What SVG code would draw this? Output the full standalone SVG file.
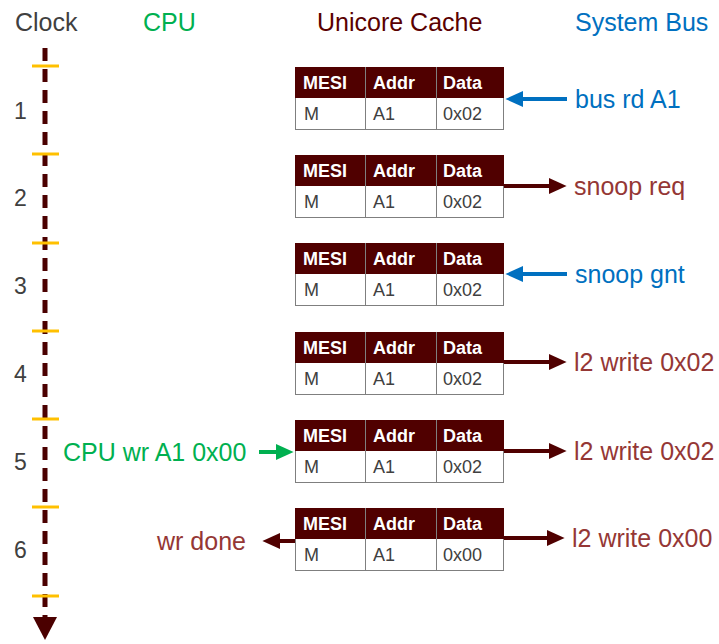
<svg xmlns="http://www.w3.org/2000/svg" width="719" height="644" viewBox="0 0 719 644">
<style>
.hdr{font-family:"Liberation Sans",Arial,sans-serif;font-size:25px}
.num{font-family:"Liberation Sans",Arial,sans-serif;font-size:23px;fill:#404040}
.lbl{font-family:"Liberation Sans",Arial,sans-serif;font-size:25px}
.th{font-family:"Liberation Sans",Arial,sans-serif;font-size:18px;font-weight:bold;fill:#ffffff}
.td{font-family:"Liberation Sans",Arial,sans-serif;font-size:18px;fill:#404040}
.head{fill:#500000}
.body{fill:#ffffff;stroke:#7f7f7f;stroke-width:1}
.sep{stroke:#7f7f7f;stroke-width:1}
.tick{stroke:#FFC000;stroke-width:3}
.blue{stroke:#0070C0;stroke-width:4;fill:none}
.mar{stroke:#500000;stroke-width:4;fill:none}
.grn{stroke:#00B050;stroke-width:4;fill:none}
</style>
<defs>
<marker id="ab" markerWidth="5" markerHeight="5" refX="0.5" refY="2" orient="auto" markerUnits="strokeWidth"><path d="M0,0 L4.4,2 L0,4 Z" fill="#0070C0"/></marker>
<marker id="am" markerWidth="5" markerHeight="5" refX="0.5" refY="2" orient="auto" markerUnits="strokeWidth"><path d="M0,0 L4.4,2 L0,4 Z" fill="#500000"/></marker>
<marker id="ag" markerWidth="5" markerHeight="5" refX="0.5" refY="2" orient="auto" markerUnits="strokeWidth"><path d="M0,0 L4.4,2 L0,4 Z" fill="#00B050"/></marker>
<g id="tbl">
<rect class="body" x="295.5" y="30.5" width="208" height="32"/>
<rect class="head" x="295" y="0" width="209" height="31"/>
<line class="sep" x1="365.5" y1="31" x2="365.5" y2="62.5"/>
<line class="sep" x1="436.5" y1="31" x2="436.5" y2="62.5"/>
<line x1="365.5" y1="0" x2="365.5" y2="31" stroke="#7f7f7f" stroke-width="1"/>
<line x1="436.5" y1="0" x2="436.5" y2="31" stroke="#7f7f7f" stroke-width="1"/>
<text class="th" x="303" y="22">MESI</text>
<text class="th" x="373" y="22">Addr</text>
<text class="th" x="443" y="22">Data</text>
<text class="td" x="304" y="53">M</text>
<text class="td" x="373" y="53">A1</text>
</g>
</defs>
<g id="headers">
<text class="hdr" x="15" y="31" fill="#404040">Clock</text>
<text class="hdr" x="143" y="31" fill="#00B050">CPU</text>
<text class="hdr" x="317" y="31" fill="#5a0000">Unicore Cache</text>
<text class="hdr" x="575" y="31" fill="#0070C0">System Bus</text>
</g>
<g id="clock">
<line x1="45" y1="48" x2="45" y2="618" stroke="#4B0000" stroke-width="5" stroke-dasharray="13,8"/>
<path d="M33,617 L57,617 L45,640 Z" fill="#4B0000"/>
<line class="tick" x1="32" y1="66" x2="59" y2="66"/>
<line class="tick" x1="32" y1="154" x2="59" y2="154"/>
<line class="tick" x1="32" y1="243" x2="59" y2="243"/>
<line class="tick" x1="32" y1="331" x2="59" y2="331"/>
<line class="tick" x1="32" y1="419" x2="59" y2="419"/>
<line class="tick" x1="32" y1="507" x2="59" y2="507"/>
<line class="tick" x1="32" y1="596" x2="59" y2="596"/>
<text class="num" x="14" y="119">1</text>
<text class="num" x="14" y="206">2</text>
<text class="num" x="14" y="294">3</text>
<text class="num" x="14" y="382">4</text>
<text class="num" x="14" y="470">5</text>
<text class="num" x="14" y="558">6</text>
</g>
<g id="cache1"><use href="#tbl" y="67"/><text class="td" x="443" y="120">0x02</text></g>
<g id="cache2"><use href="#tbl" y="155"/><text class="td" x="443" y="208">0x02</text></g>
<g id="cache3"><use href="#tbl" y="243"/><text class="td" x="443" y="296">0x02</text></g>
<g id="cache4"><use href="#tbl" y="332"/><text class="td" x="443" y="385">0x02</text></g>
<g id="cache5"><use href="#tbl" y="420"/><text class="td" x="443" y="473">0x02</text></g>
<g id="cache6"><use href="#tbl" y="508"/><text class="td" x="443" y="561">0x00</text></g>
<g id="connectors">
<line class="blue" x1="567" y1="99" x2="521" y2="99" marker-end="url(#ab)"/>
<line class="mar" x1="504" y1="186" x2="551" y2="186" marker-end="url(#am)"/>
<line class="blue" x1="567" y1="274" x2="521" y2="274" marker-end="url(#ab)"/>
<line class="mar" x1="504" y1="362" x2="551" y2="362" marker-end="url(#am)"/>
<line class="mar" x1="504" y1="451" x2="551" y2="451" marker-end="url(#am)"/>
<line class="mar" x1="504" y1="538" x2="549" y2="538" marker-end="url(#am)"/>
<line class="grn" x1="259" y1="452" x2="278" y2="452" marker-end="url(#ag)"/>
<line class="mar" x1="295" y1="541" x2="278" y2="541" marker-end="url(#am)"/>
</g>
<g id="labels">
<text class="lbl" x="575" y="108" fill="#0070C0">bus rd A1</text>
<text class="lbl" x="574" y="195" fill="#953735">snoop req</text>
<text class="lbl" x="575" y="283" fill="#0070C0">snoop gnt</text>
<text class="lbl" x="574" y="371" fill="#953735">l2 write 0x02</text>
<text class="lbl" x="574" y="460" fill="#953735">l2 write 0x02</text>
<text class="lbl" x="572" y="547" fill="#953735">l2 write 0x00</text>
<text class="lbl" x="63" y="461" fill="#00B050">CPU wr A1 0x00</text>
<text class="lbl" x="157" y="550" fill="#953735">wr done</text>
</g>
</svg>
